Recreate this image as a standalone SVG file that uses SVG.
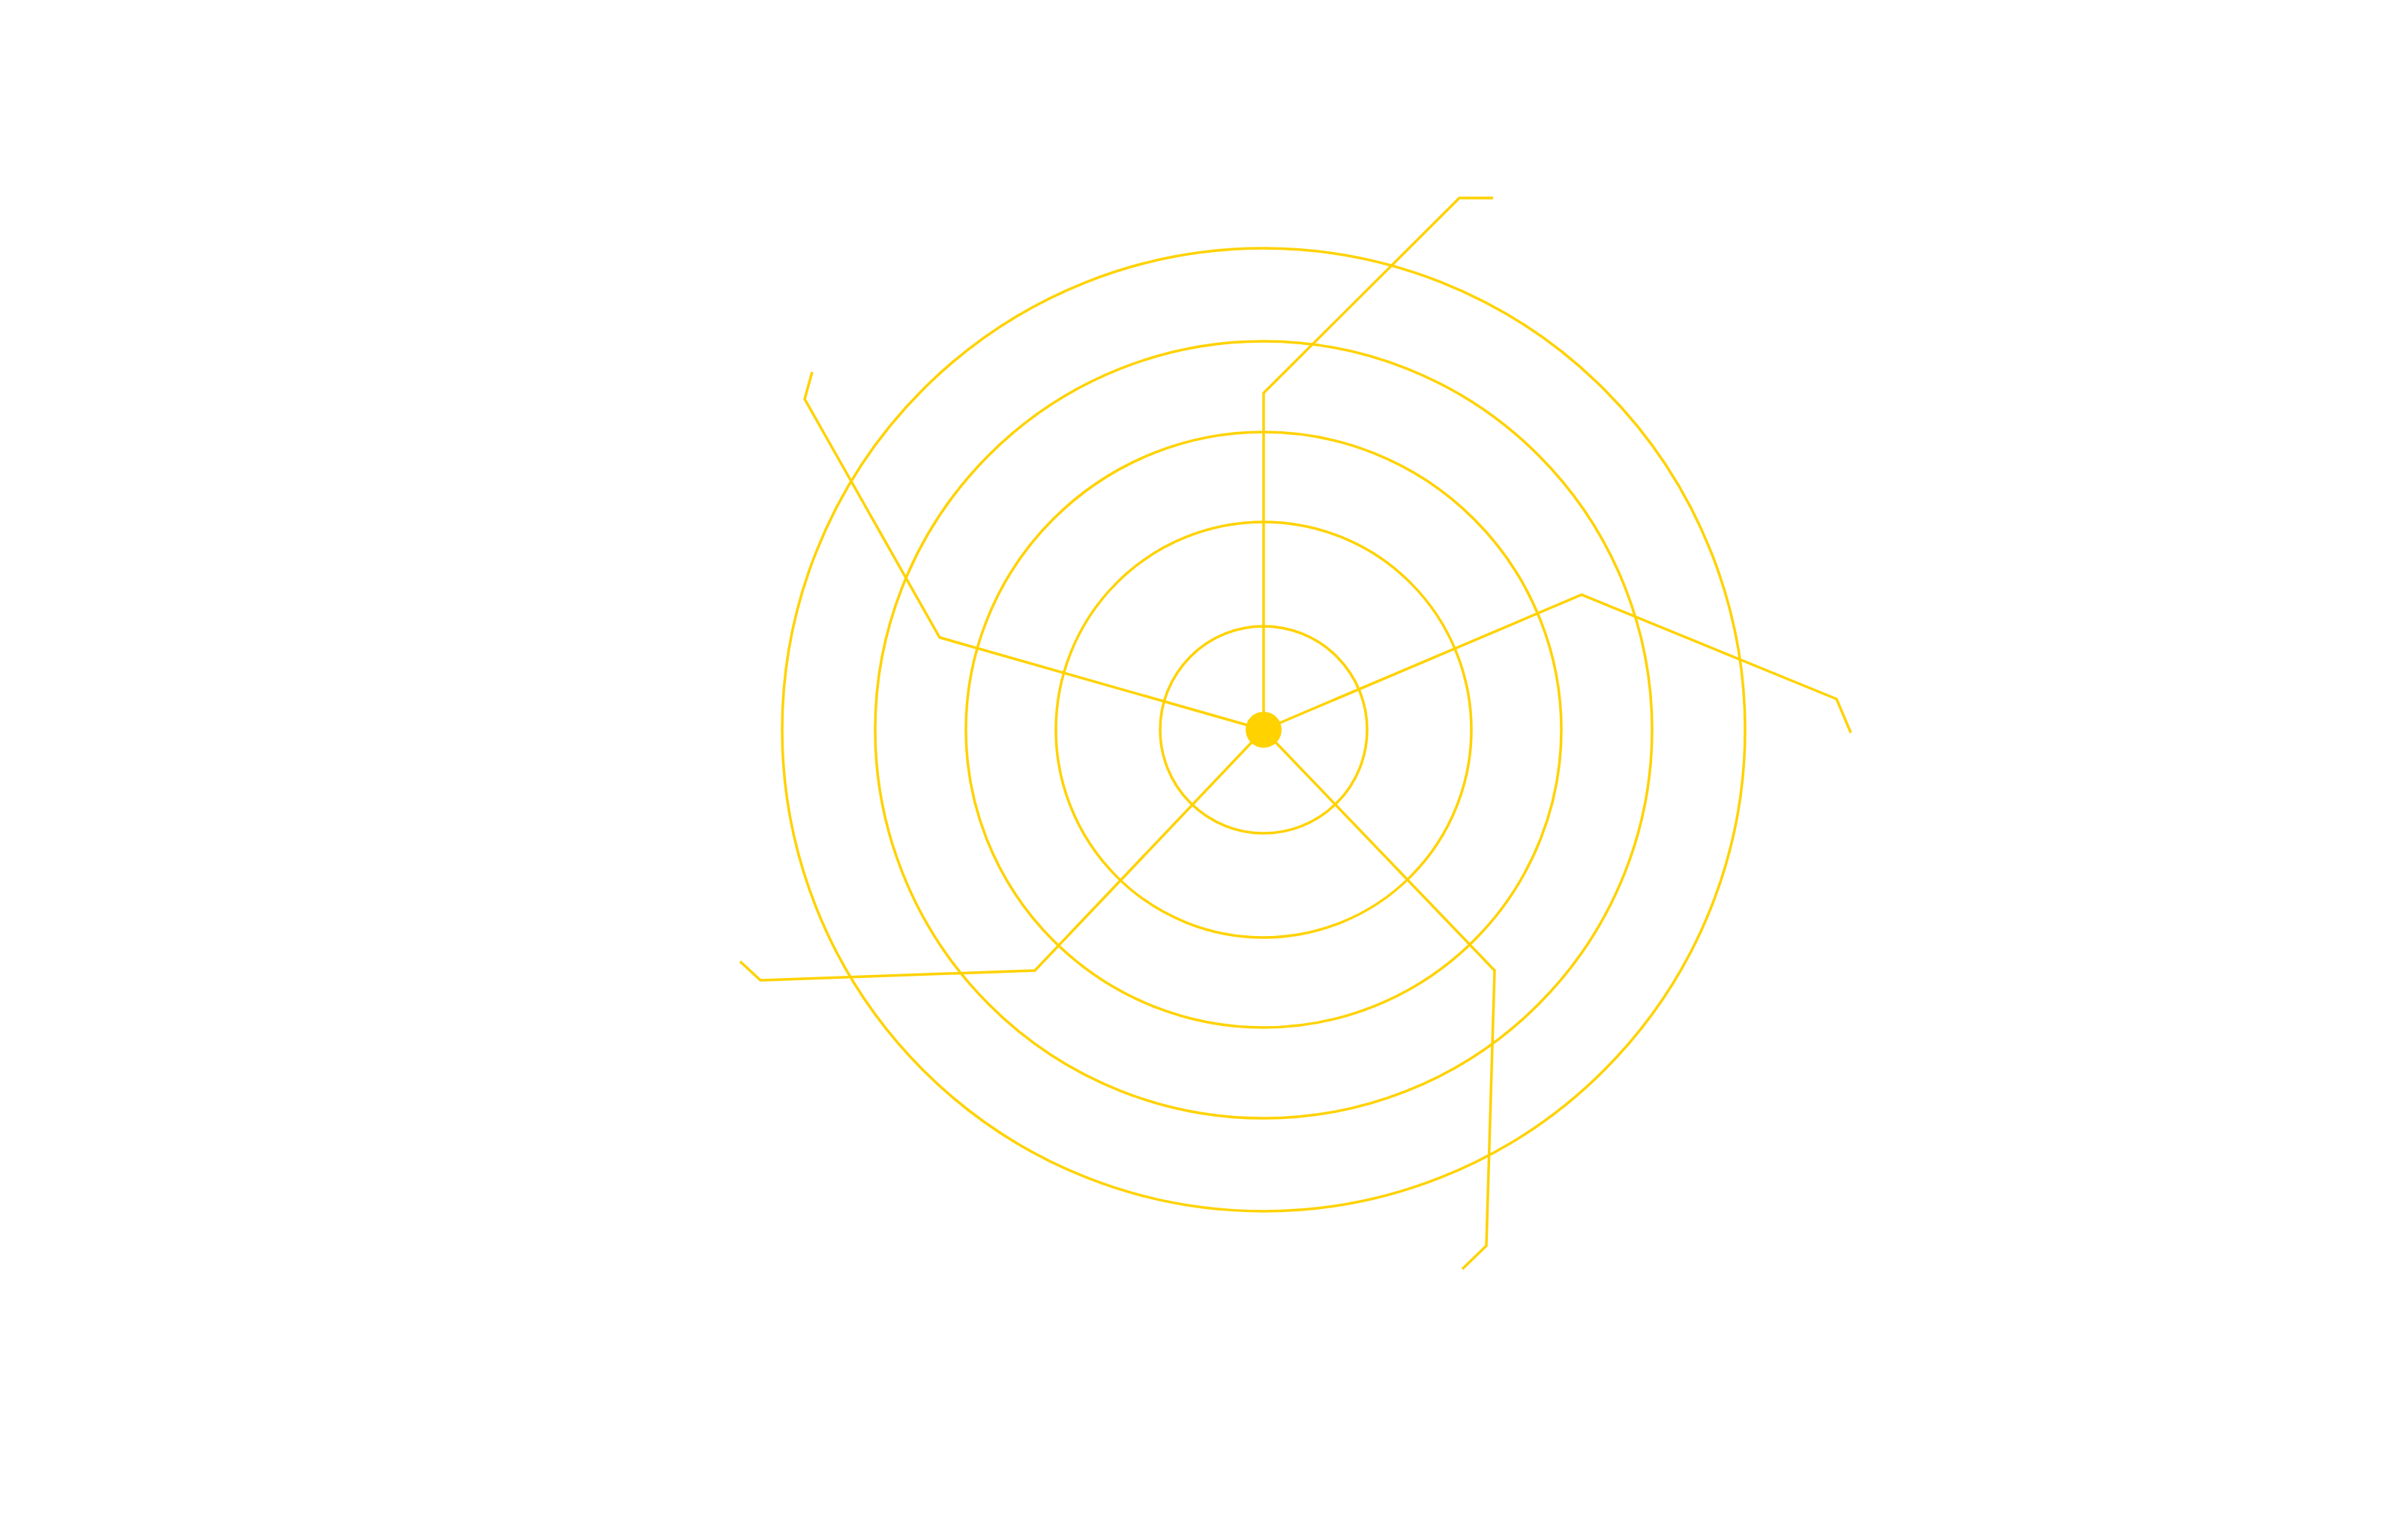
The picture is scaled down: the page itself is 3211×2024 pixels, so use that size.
<svg xmlns="http://www.w3.org/2000/svg" width="3211" height="2024" viewBox="0 0 3211 2024">
<style>.c{fill:none;stroke:#FFD200;stroke-width:3.5}</style>
<rect width="3211" height="2024" fill="#fff"/>
<g id="rings" class="c">
<circle cx="1685" cy="973" r="138"/>
<circle cx="1685" cy="973" r="277"/>
<circle cx="1685" cy="973" r="397"/>
<circle cx="1685" cy="973" r="518"/>
<circle cx="1685" cy="973" r="642"/>
</g>
<g id="connectors" class="c">
<polyline points="1685,973 1685,524 1946,264 1991,264"/>
<polyline points="1685,973 1253,850 1073,532 1083,496"/>
<polyline points="1685,973 2109,793 2449,932 2468,977"/>
<polyline points="1685,973 1380,1294 1014,1307 987,1282"/>
<polyline points="1685,973 1993,1294 1982,1661 1950,1692"/>
</g>
<g id="hub"><circle cx="1685" cy="973" r="24" fill="#FFD200"/></g>
</svg>
